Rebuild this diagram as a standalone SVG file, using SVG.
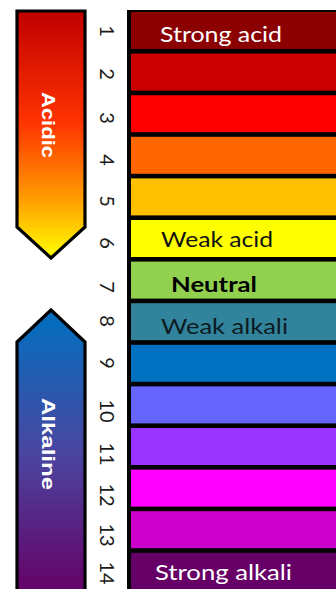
<svg xmlns="http://www.w3.org/2000/svg" width="336" height="589" viewBox="0 0 336 589">
<defs>
<linearGradient id="gAcid" x1="0" y1="0" x2="0" y2="1">
<stop offset="0" stop-color="#C00000"/>
<stop offset="0.45" stop-color="#FF3300"/>
<stop offset="0.75" stop-color="#FF9900"/>
<stop offset="1" stop-color="#FFFF00"/>
</linearGradient>
<linearGradient id="gAlk" x1="0" y1="0" x2="0" y2="1">
<stop offset="0" stop-color="#0070C0"/>
<stop offset="0.5" stop-color="#4A46A0"/>
<stop offset="1" stop-color="#660066"/>
</linearGradient>
<style>
.arrow{stroke:#000;stroke-width:3.2;stroke-linejoin:miter}
.alab{font-family:"Liberation Sans",Arial,sans-serif;font-weight:bold;font-size:19px;fill:#fff;text-anchor:middle}
.num{font-family:"Lato","Open Sans",sans-serif;font-size:20px;fill:#1a1a1a;text-anchor:middle}
.bl{font-family:"Lato","Open Sans",sans-serif;font-size:21px}
</style>
</defs>
<rect width="336" height="589" fill="#fff"/>
<g id="acidic-arrow">
<path class="arrow" d="M17,11 L85,11 L85,227 L51,258 L17,227 Z" fill="url(#gAcid)"/>
<text class="alab" transform="translate(42,125) rotate(90)" textLength="66" lengthAdjust="spacingAndGlyphs">Acidic</text>
</g>
<g id="alkaline-arrow">
<path class="arrow" d="M51,310 L85,342 L85,595 L17,595 L17,342 Z" fill="url(#gAlk)"/>
<text class="alab" transform="translate(42,444) rotate(90)" textLength="92" lengthAdjust="spacingAndGlyphs">Alkaline</text>
</g>
<g id="numbers">
<text class="num" transform="translate(100,31) rotate(90)">1</text>
<text class="num" transform="translate(100,74) rotate(90)">2</text>
<text class="num" transform="translate(100,118) rotate(90)">3</text>
<text class="num" transform="translate(100,160) rotate(90)">4</text>
<text class="num" transform="translate(100,201) rotate(90)">5</text>
<text class="num" transform="translate(100,243) rotate(90)">6</text>
<text class="num" transform="translate(100,287) rotate(90)">7</text>
<text class="num" transform="translate(100,321) rotate(90)">8</text>
<text class="num" transform="translate(100,363) rotate(90)">9</text>
<text class="num" transform="translate(100,411) rotate(90)">10</text>
<text class="num" transform="translate(100,454) rotate(90)">11</text>
<text class="num" transform="translate(100,495) rotate(90)">12</text>
<text class="num" transform="translate(100,535) rotate(90)">13</text>
<text class="num" transform="translate(100,573) rotate(90)">14</text>
</g>
<g id="scale">
<rect x="127" y="10" width="209" height="579" fill="#000"/>
<rect x="131" y="12" width="205" height="37" fill="#8B0000"/>
<rect x="131" y="53.6" width="205" height="37" fill="#CC0000"/>
<rect x="131" y="95.2" width="205" height="37" fill="#FF0000"/>
<rect x="131" y="136.8" width="205" height="37" fill="#FF6600"/>
<rect x="131" y="178.4" width="205" height="37" fill="#FFC000"/>
<rect x="131" y="220" width="205" height="37" fill="#FFFF00"/>
<rect x="131" y="261.6" width="205" height="37" fill="#92D050"/>
<rect x="131" y="303.2" width="205" height="37" fill="#31849B"/>
<rect x="131" y="344.8" width="205" height="37" fill="#0070C0"/>
<rect x="131" y="386.4" width="205" height="37" fill="#6666FF"/>
<rect x="131" y="428" width="205" height="37" fill="#9933FF"/>
<rect x="131" y="469.6" width="205" height="37" fill="#FF00FF"/>
<rect x="131" y="511.2" width="205" height="37" fill="#CC00CC"/>
<rect x="131" y="552.8" width="205" height="37" fill="#660066"/>
</g>
<g id="labels">
<text class="bl" x="160" y="41.5" fill="#fff" textLength="122" lengthAdjust="spacingAndGlyphs">Strong acid</text>
<text class="bl" x="161" y="246.5" fill="#111" textLength="112" lengthAdjust="spacingAndGlyphs">Weak acid</text>
<text class="bl" x="171" y="291.5" fill="#000" font-weight="bold" textLength="86" lengthAdjust="spacingAndGlyphs">Neutral</text>
<text class="bl" x="161" y="334" fill="#0d1a22" textLength="127" lengthAdjust="spacingAndGlyphs">Weak alkali</text>
<text class="bl" x="155" y="580" fill="#fff" textLength="137" lengthAdjust="spacingAndGlyphs">Strong alkali</text>
</g>
</svg>
